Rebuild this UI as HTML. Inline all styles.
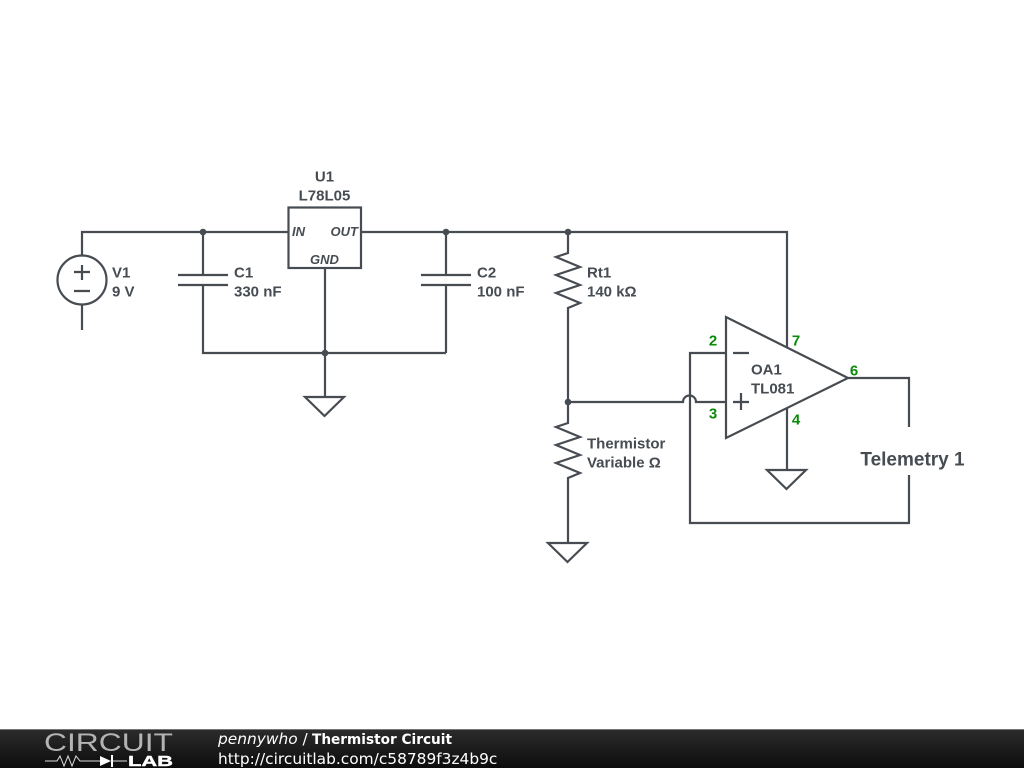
<!DOCTYPE html>
<html><head><meta charset="utf-8"><style>
html,body{margin:0;padding:0;background:#fff;width:1024px;height:768px;overflow:hidden}
svg{display:block}
text{font-family:"Liberation Sans",sans-serif;font-size:15px;font-weight:bold;fill:#464c52}
.g{fill:#0a8a0a}
.i{font-style:italic;font-size:13px}
.f{font-family:"DejaVu Sans",sans-serif;fill:#fff;font-weight:normal;font-size:15.4px}
</style></head><body>
<svg width="1024" height="768" viewBox="0 0 1024 768" xmlns="http://www.w3.org/2000/svg">
<defs><linearGradient id="b" x1="0" y1="0" x2="0" y2="1"><stop offset="0" stop-color="#2c2c2c"/><stop offset="1" stop-color="#0c0c0c"/></linearGradient></defs>
<g fill="none" stroke="#464c52" stroke-width="2.2">
<!-- wires -->
<path d="M82 256V232H288M361 232H787V348"/>
<path d="M82 304V330"/>
<circle cx="82" cy="280" r="24.5"/>
<path d="M74 272H90M82 265V280M74 291H90"/>
<path d="M203 232V275M178 275H228M178 285H228M203 285V353H446M446 232V275M421 275H471M421 285H471M446 285V353"/>
<rect x="288.500" y="207.500" width="72.500" height="60.500"/>
<path d="M325 268V397M305 397H344L324.500 416Z"/>
<path d="M568 232V253L556 257L580 267L556 275L580 285L556 293L580 303L568 308V423L556 427L580 437L556 445L580 455L556 463L580 473L568 478V543M548 543H587L567.500 562Z"/>
<path d="M568 402H683A6.500 6.500 0 0 1 696 402H726"/>
<path d="M726 353H690V523H909V475M909 427V378H848"/>
<path d="M726 317V438L848 378Z" stroke-linejoin="miter"/>
<path d="M733 353H749M733 402H749M741 393V410"/>
<path d="M787 408V470M767 470H806L786.500 489Z"/>
</g>
<g fill="#464c52"><circle cx="203" cy="232" r="3.300"/><circle cx="446" cy="232" r="3.300"/><circle cx="568" cy="232" r="3.300"/><circle cx="325" cy="353" r="3.300"/><circle cx="568" cy="402" r="3.300"/></g>
<text x="324.500" y="181.500" text-anchor="middle">U1</text>
<text x="324.500" y="200.500" text-anchor="middle">L78L05</text>
<text x="292" y="236" class="i">IN</text>
<text x="358" y="236" class="i" text-anchor="end">OUT</text>
<text x="324.500" y="264" class="i" text-anchor="middle">GND</text>
<text x="112" y="277.500">V1</text><text x="112" y="296.500">9 V</text>
<text x="234" y="277.500">C1</text><text x="234" y="296.500">330 nF</text>
<text x="477" y="277.500">C2</text><text x="477" y="296.500">100 nF</text>
<text x="587" y="277.500">Rt1</text><text x="587" y="296.500">140 kΩ</text>
<text x="587" y="448.500">Thermistor</text><text x="587" y="467.500">Variable Ω</text>
<text x="751" y="374.500">OA1</text><text x="751" y="393.500">TL081</text>
<text x="713" y="345.500" text-anchor="middle" class="g">2</text>
<text x="713" y="418.500" text-anchor="middle" class="g">3</text>
<text x="796" y="345.500" text-anchor="middle" class="g">7</text>
<text x="796" y="424.500" text-anchor="middle" class="g">4</text>
<text x="854" y="375.500" text-anchor="middle" class="g">6</text>
<text x="912.500" y="465.500" text-anchor="middle" style="font-size:19px">Telemetry 1</text>
<!-- footer -->
<rect x="0" y="729" width="1024" height="39" fill="url(#b)"/>
<rect x="0" y="729" width="1024" height="1" fill="#777"/>
<text x="44" y="751" style="font-size:25px;font-weight:normal;fill:#b4b4b4" textLength="129" lengthAdjust="spacingAndGlyphs">CIRCUIT</text>
<path d="M45 761H57L60 756L64 766L68 756L72 766L76 756L80 761H100M113 761H127" fill="none" stroke="#ddd" stroke-width="1"/>
<path d="M100 756L111 761L100 766Z M111 755H113V767H111Z" fill="#fff"/>
<text x="128" y="766" style="font-size:15px;font-weight:bold;fill:#fff;stroke:#fff;stroke-width:.4" textLength="45" lengthAdjust="spacingAndGlyphs">LAB</text>
<text x="218" y="744" class="f"><tspan font-style="italic">pennywho</tspan> /</text>
<text x="312" y="744" class="f" style="font-weight:bold;font-size:14px" textLength="140" lengthAdjust="spacingAndGlyphs">Thermistor Circuit</text>
<text x="218" y="764" class="f">http://circuitlab.com/c58789f3z4b9c</text>
</svg>
</body></html>
